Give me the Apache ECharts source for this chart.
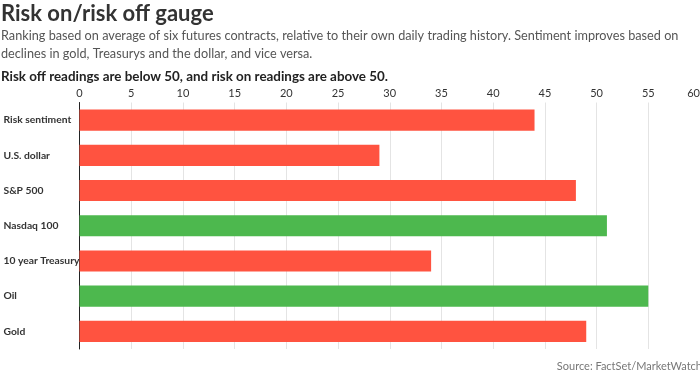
<!DOCTYPE html>
<html><head><meta charset="utf-8">
<script src="https://cdn.jsdelivr.net/npm/echarts@6/dist/echarts.min.js"></script>
<style>html,body{margin:0;padding:0;background:#fff}#c{width:700px;height:376px}</style>
</head><body><div id="c"></div>
<script>
const categories = ["Risk sentiment","U.S. dollar","S&P 500","Nasdaq 100","10 year Treasury","Oil","Gold"];
const values = [44, 29, 48, 51, 34, 55, 49];
const tickMin = 0, tickMax = 60, tickStep = 5;

const chart = echarts.init(document.getElementById('c'));
chart.setOption({
  animation: false,
  backgroundColor: '#fff',
  title: [
    {text: 'Risk on/risk off gauge', left: 1, top: 3, padding: 0, textStyle: {fontFamily: 'Lato', fontWeight: 'bold', fontSize: 22, color: '#333'}},
    {text: 'Ranking based on average of six futures contracts, relative to their own daily trading history. Sentiment improves based on\ndeclines in gold, Treasurys and the dollar, and vice versa.', left: 1, top: 27, padding: 0,
     textStyle: {fontFamily: 'Lato', fontWeight: 'normal', fontSize: 12.7, lineHeight: 18, color: '#555'}},
    {text: 'Risk off readings are below 50, and risk on readings are above 50.', left: 1, top: 70, padding: 0,
     textStyle: {fontFamily: 'Lato', fontWeight: 'bold', fontSize: 13.4, color: '#222'}},
    {text: 'Source: FactSet/MarketWatch', right: -2, top: 361, padding: 0, textStyle: {fontFamily: 'Lato', fontWeight: 'normal', fontSize: 11, color: '#777'}}
  ],
  grid: {left: 79.5, right: 0, top: 102.5, bottom: 27, containLabel: false, outerBoundsMode: 'none'},
  xAxis: {
    type: 'value', position: 'top', min: tickMin, max: tickMax, interval: tickStep,
    axisLine: {show: false}, axisTick: {show: false},
    axisLabel: {fontFamily: 'Lato', fontSize: 11, color: '#333', margin: 4, alignMaxLabel: 'right'},
    splitLine: {lineStyle: {color: '#e4e4e4', width: 1}}
  },
  yAxis: {
    type: 'category', data: categories, inverse: true,
    axisLine: {lineStyle: {color: '#222', width: 1}}, axisTick: {show: false},
    axisLabel: {fontFamily: 'Lato', fontWeight: 'bold', fontSize: 10.3, color: '#333', align: 'left', margin: 76, overflow: 'none'}
  },
  series: [{
    type: 'bar', data: values, barWidth: '60%',
    itemStyle: {color: p => p.value > 50 ? '#4db84e' : '#ff5340'}
  }]
});
</script></body></html>
